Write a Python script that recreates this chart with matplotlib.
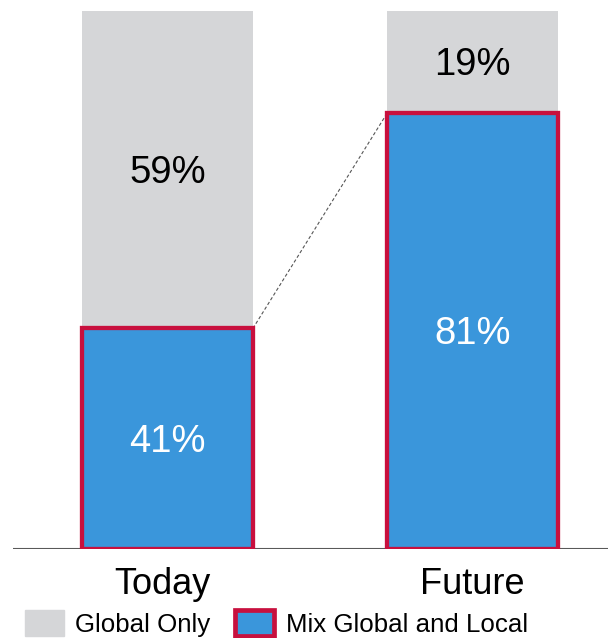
import matplotlib.pyplot as plt
from matplotlib.patches import Patch
from matplotlib.transforms import ScaledTranslation

plt.rcParams['font.family'] = ['Liberation Sans', 'DejaVu Sans']

periods = ['Today', 'Future']
mix_local = [41, 81]
global_only = [59, 19]

blue = '#3A96DB'
grey = '#D5D6D8'
red = '#C8103E'

fig = plt.figure(figsize=(6.08, 6.38), dpi=100)
ax = fig.add_axes([13/608, 1 - 549/638, 1 - 13/608, 549/638])

x = range(len(periods))
w = 0.56
ax.bar(x, global_only, bottom=mix_local, width=w, color=grey, zorder=2)
ax.bar(x, mix_local, width=w, color=blue, edgecolor=red, linewidth=3.1, zorder=3)

# dashed connector between tops of the blue parts
ax.plot([w/2, 1 - w/2], mix_local, ls=(0, (3, 2)), color='#555555', lw=0.8, zorder=1)

for i in x:
    ax.text(i, mix_local[i]/2 - 0.6, f'{mix_local[i]}%', ha='center', va='center',
            fontsize=27.5, color='white', zorder=4)
    ax.text(i, mix_local[i] + global_only[i]/2 - 0.6, f'{global_only[i]}%', ha='center',
            va='center', fontsize=27.5, color='black', zorder=4)

ax.axhline(0, color='#595959', lw=1.5, zorder=1)
ax.set_xlim(-(167.5 - 13)/305, (608 - 167.5)/305)
ax.set_ylim(0, 100*549/538)
ax.set_xticks(list(x))
ax.set_xticklabels(periods, fontsize=26)
ax.tick_params(axis='x', length=0, pad=13)
ax.set_yticks([])
for s in ax.spines.values():
    s.set_visible(False)
lab = ax.get_xticklabels()[0]
lab.set_transform(lab.get_transform() + ScaledTranslation(-5/100, 0, fig.dpi_scale_trans))

handles = [Patch(facecolor=grey, edgecolor=grey),
           Patch(facecolor=blue, edgecolor=red, linewidth=3.4)]
fig.legend(handles, ['Global Only', 'Mix Global and Local'], loc='lower left',
           bbox_to_anchor=(25/608 - 0.017, -0.014), ncol=2, frameon=False, fontsize=18.6,
           handlelength=1.5, handleheight=1.2, handletextpad=0.45,
           columnspacing=0.95, borderaxespad=0)

fig.savefig('out.png', dpi=100)
